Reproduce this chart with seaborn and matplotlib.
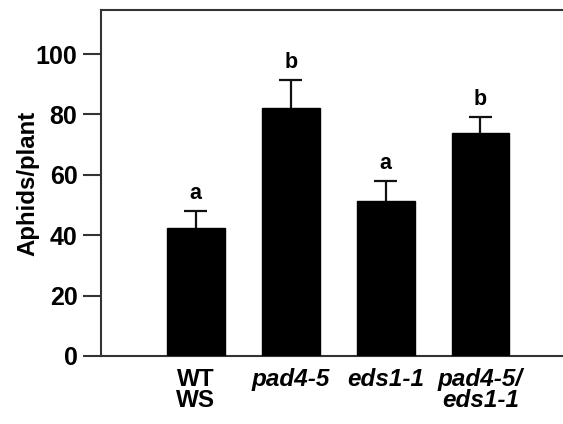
import matplotlib
matplotlib.use("Agg")
import matplotlib.pyplot as plt
from matplotlib import font_manager
import seaborn as sns
import pandas as pd

sns.set_style("white")
# keep the narrow variant out of the font lookup
font_manager.fontManager.ttflist = [f for f in font_manager.fontManager.ttflist
                                    if "Narrow" not in f.name and "Narrow" not in f.fname]
plt.rcParams["font.family"] = ["Liberation Sans", "DejaVu Sans"]
plt.rcParams["text.color"] = "black"
plt.rcParams["ytick.color"] = "black"
plt.rcParams["xtick.color"] = "black"
plt.rcParams["axes.labelcolor"] = "black"

# values
genotypes = ["WT\nWS", "pad4-5", "eds1-1", "pad4-5/\neds1-1"]
aphids = [42.3, 82.1, 51.5, 74.0]
err_up = [5.8, 9.2, 6.6, 5.1]
letters = ["a", "b", "a", "b"]

df = pd.DataFrame({"genotype": genotypes, "aphids": aphids})

fig = plt.figure(figsize=(5.63, 4.24), dpi=100)
ax = fig.add_axes([0.1794, 0.1604, 0.8206, 0.816])

sns.barplot(data=df, x="genotype", y="aphids", color="black", width=0.61,
            errorbar=None, saturation=1, edgecolor="black", ax=ax, zorder=3)

xs = list(range(len(aphids)))
tops = [v + e for v, e in zip(aphids, err_up)]
ax.vlines(xs, aphids, tops, color="#111111", lw=1.6, zorder=2)
ax.hlines(tops, [x - 0.12 for x in xs], [x + 0.12 for x in xs], color="#111111", lw=1.6, zorder=2)

for i, (t, l) in enumerate(zip(tops, letters)):
    ax.text(i, t + 2.3, l, ha="center", va="bottom", fontsize=15.5, fontweight="bold")

ax.set_xlim(-1, 3.87)
ax.set_ylim(0, 114.6)
ax.set_yticks([0, 20, 40, 60, 80, 100])
ax.set_ylabel("Aphids/plant", fontsize=17.3, fontweight="bold", labelpad=-3)
ax.set_xlabel("")

ax.set_xticks(xs)
ax.set_xticklabels(genotypes, fontsize=17.5, fontweight="bold", linespacing=0.87)
for i, lab in enumerate(ax.get_xticklabels()):
    if i > 0:
        lab.set_fontstyle("italic")
ax.tick_params(axis="x", length=0, pad=9)
ax.tick_params(axis="y", direction="out", length=13, width=1.5, color="#333333",
               labelsize=18, pad=4, left=True)
for lab in ax.get_yticklabels():
    lab.set_fontweight("bold")

for s in ["left", "top", "bottom"]:
    ax.spines[s].set_linewidth(1.5)
    ax.spines[s].set_color("#333333")
ax.spines["right"].set_visible(False)

fig.savefig("out.png", dpi=100)
